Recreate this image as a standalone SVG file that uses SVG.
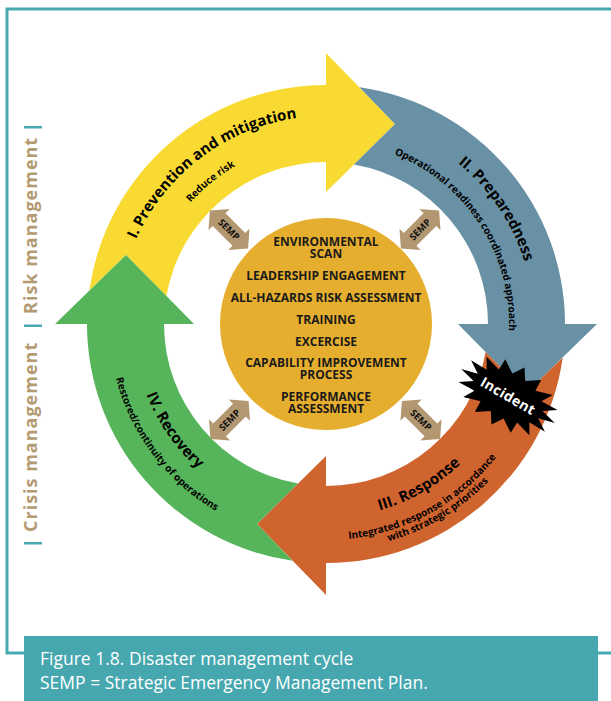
<svg xmlns="http://www.w3.org/2000/svg" xmlns:xlink="http://www.w3.org/1999/xlink" width="611" height="701" viewBox="0 0 611 701">
<style>
.frame{fill:none;stroke:#47a9b1;stroke-width:3}
.side{font-family:"Open Sans","DejaVu Sans",sans-serif;font-weight:700;font-size:18px;letter-spacing:1px;fill:#b39a71}
.bar{fill:#47a9b1}
.title{font-family:"Open Sans","DejaVu Sans",sans-serif;font-weight:700;font-size:15px;fill:#000}
.sub{font-family:"Open Sans","DejaVu Sans",sans-serif;font-weight:700;font-size:10px;fill:#000}
.core{font-family:"Open Sans","DejaVu Sans",sans-serif;font-weight:700;font-size:12px;fill:#1a1a1a;text-anchor:middle}
.semp{fill:#b39770}
.sempt{font-family:"Open Sans","DejaVu Sans",sans-serif;font-weight:700;font-size:9.5px;fill:#111;text-anchor:middle}
.cap{font-family:"Open Sans","DejaVu Sans",sans-serif;font-weight:400;font-size:17.5px;fill:#fff}
</style>
<defs>
<path id="seg" d="M33.4,-236.7 A239,239 0 0 1 239,0 L271,0 L200,69 L132,0 L162,0 A162,162 0 0 0 28,-159.6 L69,-200 Z"/>
<path id="sa" d="M-27,0 L-14,-15 L-14,-9 L14,-9 L14,-15 L27,0 L14,15 L14,9 L-14,9 L-14,15 Z"/>
<path id="pY1" d="M119.6,349.4 A208,208 0 0 1 407.3,132.5"/>
<path id="pY2" d="M147.3,289.3 A182,182 0 0 1 329.2,142.0"/>
<path id="pB1" d="M311.5,116.5 A208,208 0 0 1 513.0,415.2"/>
<path id="pB2" d="M316.4,141.3 A183,183 0 0 1 489.1,407.1"/>
<path id="pO1" d="M229,492 A194,194 0 0 0 520,324"/>
<path id="pO2" d="M214.8,509.2 A216,216 0 0 0 542.0,327.8"/>
<path id="pO3" d="M216.4,521.7 A226,226 0 0 0 552.0,320.1"/>
<path id="pG1" d="M151.1,242.4 A193,193 0 0 0 342.8,516.3"/>
<path id="pG2" d="M126.3,239.2 A217,217 0 0 0 352.4,539.4"/>
</defs>

<g id="frame">
<path class="frame" d="M611,9 L7,9 L7,653 L24,653 M598,653 L611,653"/>
</g>

<g id="side-labels">
<rect class="bar" x="24" y="126" width="18" height="2.5"/>
<rect class="bar" x="24" y="324.5" width="18" height="2.5"/>
<rect class="bar" x="24" y="542" width="18" height="2.5"/>
<text class="side" transform="translate(37,314) rotate(-90)">Risk management</text>
<text class="side" transform="translate(37,532) rotate(-90)">Crisis management</text>
</g>

<g id="prevention">
<use xlink:href="#seg" href="#seg" fill="#f8da33" transform="translate(326,324) rotate(-90)"/>
<text class="title" text-anchor="middle"><textPath xlink:href="#pY1" href="#pY1" startOffset="50%">I. Prevention and mitigation</textPath></text>
<text class="sub" text-anchor="middle"><textPath xlink:href="#pY2" href="#pY2" startOffset="50%">Reduce risk</textPath></text>
</g>

<g id="preparedness">
<use xlink:href="#seg" href="#seg" fill="#6891a6" transform="translate(326,324)"/>
<text class="title" text-anchor="middle"><textPath xlink:href="#pB1" href="#pB1" startOffset="50%">II. Preparedness</textPath></text>
<text class="sub" text-anchor="middle"><textPath xlink:href="#pB2" href="#pB2" startOffset="50%">Operational readiness coordinated approach</textPath></text>
</g>

<g id="response">
<use xlink:href="#seg" href="#seg" fill="#d0642f" transform="translate(326,324) rotate(90)"/>
<text class="title" text-anchor="middle"><textPath xlink:href="#pO1" href="#pO1" startOffset="50%">III. Response</textPath></text>
<text class="sub" text-anchor="middle"><textPath xlink:href="#pO2" href="#pO2" startOffset="50%">Integrated response in accordance</textPath></text>
<text class="sub" text-anchor="middle"><textPath xlink:href="#pO3" href="#pO3" startOffset="50%">with strategic priorities</textPath></text>
</g>

<g id="recovery">
<use xlink:href="#seg" href="#seg" fill="#56b45a" transform="translate(326,324) rotate(180)"/>
<text class="title" text-anchor="middle"><textPath xlink:href="#pG1" href="#pG1" startOffset="50%">IV. Recovery</textPath></text>
<text class="sub" text-anchor="middle"><textPath xlink:href="#pG2" href="#pG2" startOffset="50%">Restored/continuity of operations</textPath></text>
</g>

<g id="incident" transform="translate(508,396) rotate(30)">
<polygon fill="#000" points="54,0 37.3,4.3 49.9,12.6 31.6,12.2 38.2,23.3 21.1,18.3 20.7,30.5 7.4,21.6 0,33 -7.4,21.6 -20.7,30.5 -21.1,18.3 -38.2,23.3 -31.6,12.2 -49.9,12.6 -37.3,4.3 -54,0 -37.3,-4.3 -49.9,-12.6 -31.6,-12.2 -38.2,-23.3 -21.1,-18.3 -20.7,-30.5 -7.4,-21.6 0,-33 7.4,-21.6 20.7,-30.5 21.1,-18.3 38.2,-23.3 31.6,-12.2 49.9,-12.6 37.3,-4.3"/>
<text x="0" y="5" text-anchor="middle" font-family="Open Sans, DejaVu Sans, sans-serif" font-weight="700" font-size="14" letter-spacing="0.4" fill="#fff">Incident</text>
</g>

<g id="core">
<circle cx="326" cy="324" r="106" fill="#e6ae2e"/>
<text class="core" x="326" y="246">ENVIRONMENTAL</text>
<text class="core" x="326" y="257.5">SCAN</text>
<text class="core" x="326" y="280">LEADERSHIP ENGAGEMENT</text>
<text class="core" x="326" y="302">ALL-HAZARDS RISK ASSESSMENT</text>
<text class="core" x="326" y="323.5">TRAINING</text>
<text class="core" x="326" y="345.5">EXCERCISE</text>
<text class="core" x="326" y="367">CAPABILITY IMPROVEMENT</text>
<text class="core" x="326" y="378.5">PROCESS</text>
<text class="core" x="326" y="401">PERFORMANCE</text>
<text class="core" x="326" y="412.5">ASSESSMENT</text>
</g>

<g id="connectors">
<g id="semp-tl" transform="translate(229,229.5) rotate(45)"><use xlink:href="#sa" href="#sa" class="semp"/><text class="sempt" y="3.4">SEMP</text></g>
<g id="semp-tr" transform="translate(420,229.5) rotate(-45)"><use xlink:href="#sa" href="#sa" class="semp"/><text class="sempt" y="3.4">SEMP</text></g>
<g id="semp-bl" transform="translate(229.5,420) rotate(-45)"><use xlink:href="#sa" href="#sa" class="semp"/><text class="sempt" y="3.4">SEMP</text></g>
<g id="semp-br" transform="translate(421,420) rotate(45)"><use xlink:href="#sa" href="#sa" class="semp"/><text class="sempt" y="3.4">SEMP</text></g>
</g>

<g id="caption">
<rect x="24" y="636" width="574" height="65" fill="#46a7af"/>
<text class="cap" x="40" y="665">Figure 1.8. Disaster management cycle</text>
<text class="cap" x="40" y="689">SEMP = Strategic Emergency Management Plan.</text>
</g>
</svg>
